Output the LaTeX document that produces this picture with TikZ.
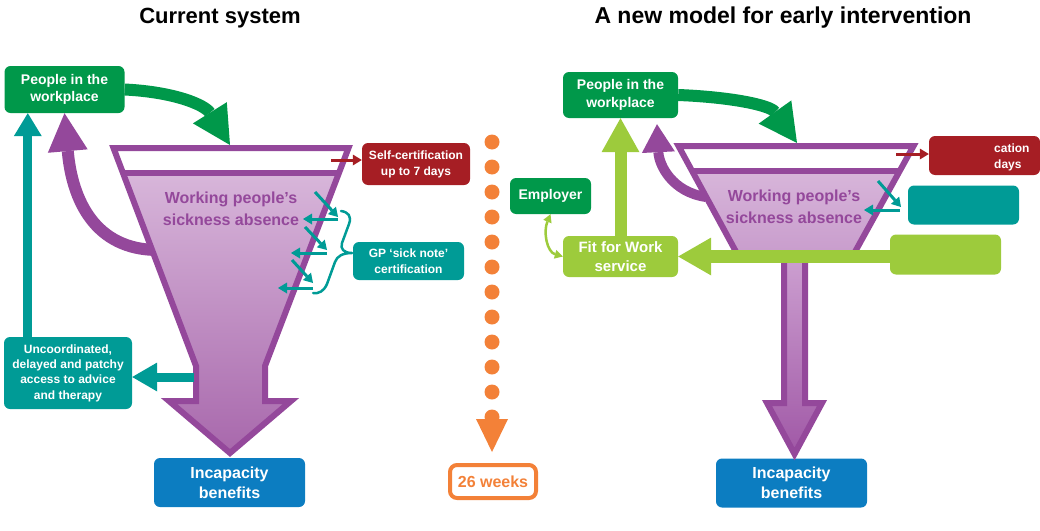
\documentclass[tikz,border=0pt]{standalone}
\usepackage{fontspec}
\setmainfont{Liberation Sans}
\usetikzlibrary{arrows.meta}
\definecolor{dgreen}{RGB}{0,152,74}
\definecolor{lgreen}{RGB}{157,203,60}
\definecolor{tealc}{RGB}{0,155,150}
\definecolor{purp}{RGB}{148,72,155}
\definecolor{redc}{RGB}{166,30,36}
\definecolor{bluec}{RGB}{12,125,193}
\definecolor{orng}{RGB}{243,129,56}
\definecolor{ftop}{RGB}{220,189,222}
\definecolor{fbot}{RGB}{168,104,172}
\definecolor{ntop}{RGB}{206,162,210}
\definecolor{nbot}{RGB}{160,88,166}
\begin{document}
\begin{tikzpicture}[x=1pt,y=-1pt,
  box/.style={rounded corners=6pt, inner sep=0pt, text=white, align=center},
  f12/.style={font=\bfseries\fontsize{12}{16}\selectfont},
  f14/.style={font=\bfseries\fontsize{14}{17.5}\selectfont},
  f16/.style={font=\bfseries\fontsize{16}{20}\selectfont},
  funneltext/.style={text=purp, align=center, font=\bfseries\fontsize{16}{22}\selectfont},
  border/.style={draw=purp, line width=6pt, line join=miter},
  smallteal/.style={tealc, line width=3pt, -{Triangle[length=9pt,width=11pt,line width=0pt]}},
  smallred/.style={redc, line width=3pt, -{Triangle[length=9pt,width=11pt,line width=0pt]}},
  bigarrow/.style={line width=12pt, -{Triangle[length=38pt,width=40pt,line width=0pt]}}
]
\useasboundingbox (0,0) rectangle (1040,530);

% titles
\node[font=\bfseries\fontsize{22}{26}\selectfont] (t1) at (220,18) {Current system};
\node[font=\bfseries\fontsize{23}{26}\selectfont] (t2) at (783,18) {A new model for early intervention};

% ===== LEFT: current system =====
\node[box, f14, fill=dgreen, minimum width=120pt, minimum height=47pt] (pwl) at (64.5,89.5) {People in the\\workplace};
\node[box, f12, fill=redc, minimum width=108pt, minimum height=42pt] (sc) at (416,164) {Self-certification\\up to 7 days};
\node[box, f12, fill=tealc, minimum width=111pt, minimum height=38pt] (gp) at (408.5,261) {GP ‘sick note’\\certification};
\node[box, fill=tealc, minimum width=128pt, minimum height=72pt, font=\bfseries\fontsize{12}{15.3}\selectfont] (unc) at (68,373) {Uncoordinated,\\delayed and patchy\\access to advice\\and therapy};
\node[box, f16, fill=bluec, minimum width=151pt, minimum height=49pt] (ib1) at (229.5,482.5) {Incapacity\\benefits};

% purple return arrow (behind funnel)
\coordinate (fl1) at (158,250);
\draw[purp, bigarrow] (fl1) .. controls (95,250) and (72,200) .. (pwl.south);

% funnel
\shade[top color=ftop, bottom color=fbot] (113.5,148) -- (348.5,148) -- (265,366) -- (265,401) -- (291,401) -- (230,453) -- (169,401) -- (196,401) -- (196,366) -- cycle;
\fill[white] (113.5,148) -- (348.5,148) -- (339,173) -- (123,173) -- cycle;
\draw[purp, line width=6pt] (123,173) -- (339,173);
\draw[border] (113.5,148) -- (348.5,148) -- (265,366) -- (265,401) -- (291,401) -- (230,453) -- (169,401) -- (196,401) -- (196,366) -- cycle;
\node[funneltext] (wp1) at (231,209) {Working people’s\\sickness absence};

% red arrow
\coordinate (rs1) at (331,160);
\draw[smallred] (rs1) -- (rs1 -| sc.west);

% teal arrows in funnel
\coordinate (a1) at (315,192); \coordinate (a2) at (338,217);
\coordinate (a3) at (338,219); \coordinate (a4) at (303,219);
\coordinate (b1) at (305,227); \coordinate (b2) at (327,250);
\coordinate (b3) at (327,253); \coordinate (b4) at (291,253);
\coordinate (c1) at (292,260); \coordinate (c2) at (313,283);
\coordinate (c3) at (313,288); \coordinate (c4) at (278,288);
\draw[smallteal] (a1) -- (a2);
\draw[smallteal] (a3) -- (a4);
\draw[smallteal] (b1) -- (b2);
\draw[smallteal] (b3) -- (b4);
\draw[smallteal] (c1) -- (c2);
\draw[smallteal] (c3) -- (c4);

% brace
\draw[tealc, line width=2.5pt, line cap=round, line join=round]
  (341,211) .. controls (348,212) and (352,216) .. (349,224)
  -- (342,243) .. controls (340,249) and (344,253) .. (352,253)
  .. controls (343,253) and (337,256) .. (335,262)
  -- (327,284) .. controls (324,291) and (319,294) .. (313,293);

% green arrow into funnel
\coordinate (ftl) at (230,145);
\draw[dgreen, bigarrow] (pwl.east) .. controls (175,92) and (205,105) .. (ftl);

% teal arrows to/from uncoordinated box
\path (unc.north west) ++(24,0) coordinate (tv1);
\draw[tealc, line width=9pt, -{Triangle[length=23pt,width=28pt,line width=0pt]}] (tv1) -- (tv1 |- pwl.south);
\coordinate (nk) at (194,377);
\draw[tealc, line width=9pt, -{Triangle[length=25pt,width=29pt,line width=0pt]}] (nk) -- (nk -| unc.east);

% ===== middle: 26 weeks =====
\foreach \k in {0,...,11} \fill[orng] (492,142+25*\k) circle (7.5pt);
\fill[orng] (476,419) -- (508,419) -- (492,452) -- cycle;
\node[draw=orng, line width=4pt, fill=white, rounded corners=7pt, minimum width=86pt, minimum height=33pt, inner sep=0pt, text=orng, f16] (wk) at (493,481.5) {26 weeks};

% ===== RIGHT: new model =====
\node[box, f14, fill=dgreen, minimum width=115pt, minimum height=46pt] (pwl2) at (620.5,95) {People in the\\workplace};
\node[box, f14, fill=dgreen, minimum width=81pt, minimum height=36pt] (emp) at (550.5,196) {Employer};
\node[box, fill=lgreen, minimum width=115pt, minimum height=41pt, font=\bfseries\fontsize{15}{19}\selectfont] (ffw) at (620.5,256.5) {Fit for Work\\service};
\node[box, fill=redc, minimum width=111pt, minimum height=39pt] (sc2) at (984.5,155.5) {};
\node[text=white, f12, align=left, anchor=west, inner sep=0pt] (sc2t) at (994,157) {cation\\days};
\node[box, fill=tealc, minimum width=111pt, minimum height=39pt] (tb2) at (963.5,205) {};
\node[box, fill=lgreen, minimum width=111pt, minimum height=40pt] (lg2) at (945.5,254.5) {};
\node[box, f16, fill=bluec, minimum width=151pt, minimum height=49pt] (ib2) at (791.5,483) {Incapacity\\benefits};

% purple return arrow right
\coordinate (fr1) at (706,197);
\draw[purp, line width=10pt, -{Triangle[length=28pt,width=33pt,line width=0pt]}] (fr1) .. controls (672,192) and (659,165) .. ([shift={(36.5,6)}]pwl2.south);

% neck and arrow
\shade[top color=ntop, bottom color=nbot] (784,250) -- (805,250) -- (805,403) -- (822,403) -- (794.5,454) -- (767,403) -- (784,403) -- cycle;
\draw[border] (784,250) -- (805,250) -- (805,403) -- (822,403) -- (794.5,454) -- (767,403) -- (784,403) -- cycle;

% funnel right
\shade[top color=ftop, bottom color={rgb,255:red,200;green,156;blue,204}] (678.5,146) -- (913.5,146) -- (852.7,256) -- (738.3,256) -- cycle;
\fill[white] (678.5,146) -- (913.5,146) -- (900.2,170.5) -- (691.8,170.5) -- cycle;
\draw[purp, line width=6pt] (691.8,170.5) -- (900.2,170.5);
\draw[border] (678.5,146) -- (913.5,146) -- (852.7,256) -- (738.3,256) -- cycle;
\node[funneltext] (wp2) at (794,207) {Working people’s\\sickness absence};

% red arrow right
\coordinate (rs2) at (896,154);
\draw[smallred] (rs2) -- (rs2 -| sc2.west);

% teal arrows right
\coordinate (d1) at (878,181); \coordinate (d2) at (901,207);
\coordinate (d3) at (900,210); \coordinate (d4) at (864,210);
\draw[smallteal] (d1) -- (d2);
\draw[smallteal] (d3) -- (d4);

% light green arrows
\draw[lgreen, line width=13pt, -{Triangle[length=33pt,width=38pt,line width=0pt]}] (lg2.west |- ffw.east) -- (ffw.east);
\draw[lgreen, line width=12pt, -{Triangle[length=34pt,width=38pt,line width=0pt]}] (ffw.north) -- (pwl2.south);
\draw[lgreen, line width=2.5pt, {Triangle[length=8pt,width=9pt,line width=0pt]}-{Triangle[length=8pt,width=9pt,line width=0pt]}] (emp.south) .. controls (543,232) and (547,252) .. (ffw.west);

% green arrow into right funnel
\coordinate (ftr) at (797,143);
\draw[dgreen, bigarrow] (pwl2.east) .. controls (730,97) and (770,105) .. (ftr);
\end{tikzpicture}
\end{document}
